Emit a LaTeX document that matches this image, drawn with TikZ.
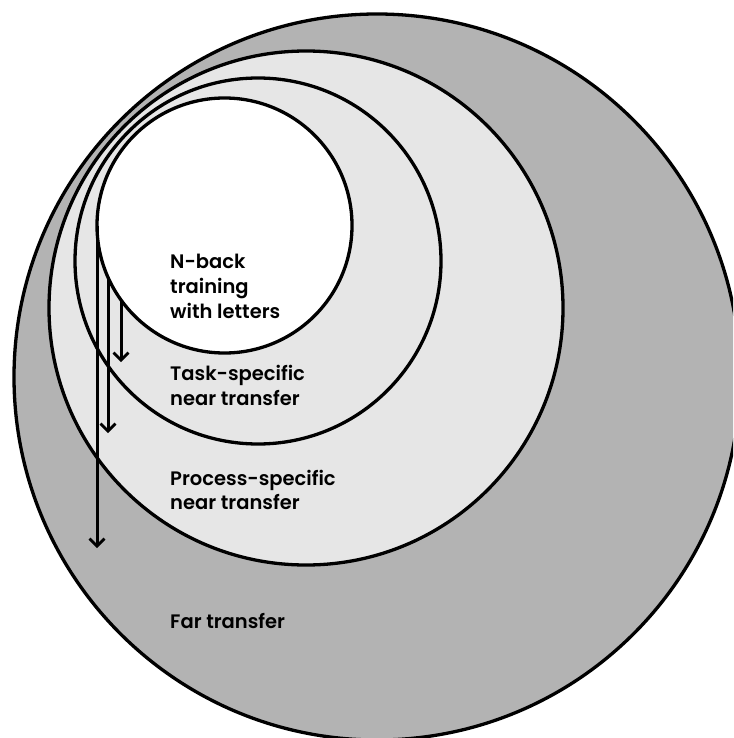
\documentclass[tikz,border=0pt]{standalone}
\usepackage{fontspec}
\setmainfont{Poppins}[UprightFont=* SemiBold]
\usetikzlibrary{arrows.meta}
\begin{document}
\begin{tikzpicture}[x=1pt,y=-1pt,
  ring/.style={circle,draw=black,line width=3.3pt,inner sep=0pt},
  lab/.style={anchor=base west,inner sep=0pt,font=\fontsize{19.5}{24}\selectfont},
  arr/.style={line width=3pt,-{Straight Barb[length=7.5pt,width=15pt,line width=2.8pt]}}]
\useasboundingbox (0,0) rectangle (733,738);
\clip (0,0) rectangle (733,738);
\node[ring,fill={rgb,255:red,179;green,179;blue,179},minimum size=726pt] (far) at (377,377) {};
\node[ring,fill={rgb,255:red,230;green,230;blue,230},minimum size=514pt] (proc) at (306,308) {};
\node[ring,fill={rgb,255:red,230;green,230;blue,230},minimum size=366pt] (task) at (258,261) {};
\node[ring,fill=white,minimum size=255pt] (nback) at (224.5,225.5) {};
\coordinate (s1) at (97,225.5);
\coordinate (e1) at (97,548);
\coordinate (s2) at (108,277);
\coordinate (e2) at (108,433);
\coordinate (s3) at (121,300);
\coordinate (e3) at (121,362);
\draw[arr] (s1) -- (e1);
\draw[arr] (s2) -- (e2);
\draw[arr] (s3) -- (e3);
\node[lab] (n1) at (170,268) {N-back};
\node[lab] (n2) at (170,293) {training};
\node[lab] (n3) at (170,318) {with letters};
\node[lab] (t1) at (170,380) {Task-specific};
\node[lab] (t2) at (170,405) {near transfer};
\node[lab] (p1) at (170,485) {Process-specific};
\node[lab] (p2) at (170,509) {near transfer};
\node[lab] (f1) at (170,628) {Far transfer};
\end{tikzpicture}
\end{document}
